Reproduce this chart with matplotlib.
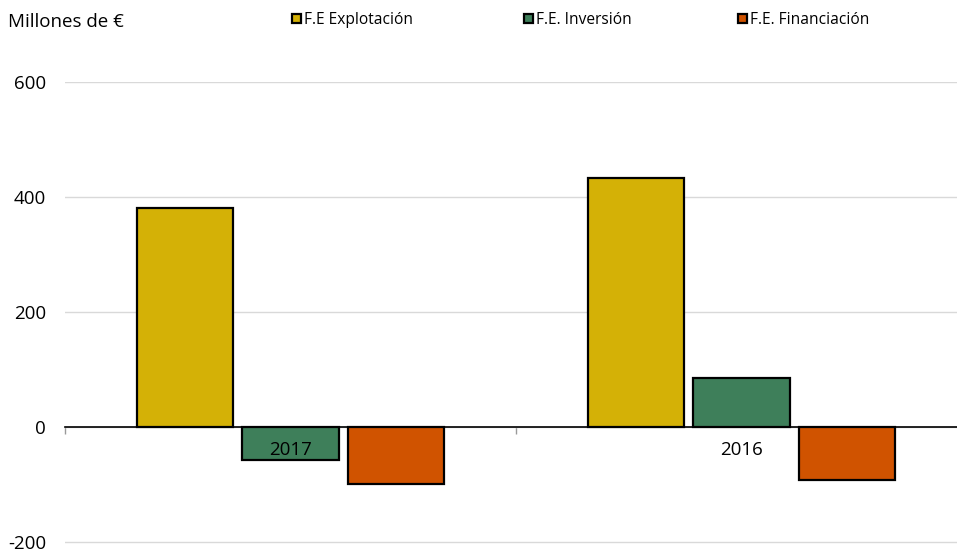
import matplotlib
matplotlib.use("Agg")
import matplotlib.pyplot as plt
from matplotlib.patches import Patch
import numpy as np

plt.rcParams['font.family'] = ['Open Sans', 'DejaVu Sans']

# Data (millones de euros)
years = ["2017", "2016"]
series_names = ["F.E Explotación", "F.E. Inversión", "F.E. Financiación"]
explotacion = [381, 433]
inversion = [-57, 85]
financiacion = [-99, -92]
y_ticks = [-200, 0, 200, 400, 600]

colors = ["#D4B106", "#3E7F5A", "#D05300"]

fig = plt.figure(figsize=(9.57, 5.51), dpi=100)
# a little room below -200 so its gridline is drawn in full
ax = fig.add_axes([65 / 957, 6.1 / 551, 902 / 957, 462.9 / 551])

x = np.arange(len(years))
width = 0.213
offset = 0.234
for i, (vals, name, c) in enumerate(zip([explotacion, inversion, financiacion], series_names, colors)):
    ax.bar(x + (i - 1) * offset, vals, width, color=c, edgecolor="black",
           linewidth=1.6, label=name, zorder=2)

ax.set_xlim(-0.5, len(years) - 0.5)
ax.set_ylim(-205, 600)
ax.set_yticks(y_ticks)
ax.set_yticklabels([str(v) for v in y_ticks], fontsize=13.5)
ax.tick_params(axis="y", length=0, pad=13.5)
ax.yaxis.grid(True, color="#d9d9d9", linewidth=1)
ax.set_axisbelow(True)

for s in ["top", "right", "left"]:
    ax.spines[s].set_visible(False)
ax.spines["bottom"].set_position(("data", 0))
ax.spines["bottom"].set_color("black")
ax.spines["bottom"].set_linewidth(1.2)
ax.spines["bottom"].set_zorder(3)
ax.set_xticks(np.arange(-0.5, len(years), 1.0))
ax.set_xticklabels([])
ax.tick_params(axis="x", direction="out", length=5, color="#9a9a9a", width=1)

for xi, yr in zip(x, years):
    ax.annotate(yr, (xi, 0), xytext=(0, -23), textcoords="offset pixels",
                ha="center", va="center", fontsize=13.5, zorder=5)

fig.text(8 / 957, 1 - 22 / 551, "Millones de €", fontsize=13.5, ha="left", va="center")

# One legend entry per series, spread across the top
legend_x = [292, 524, 738]
for name, c, lx in zip(series_names, colors, legend_x):
    h = Patch(facecolor=c, edgecolor="black", linewidth=1.6)
    fig.legend([h], [name], loc="center left", bbox_to_anchor=(lx / 957, 1 - 20 / 551),
               frameon=False, fontsize=11.2, handlelength=0.55, handleheight=0.55,
               handletextpad=0.25, borderaxespad=0, borderpad=0)

fig.savefig("out.png", dpi=100)
